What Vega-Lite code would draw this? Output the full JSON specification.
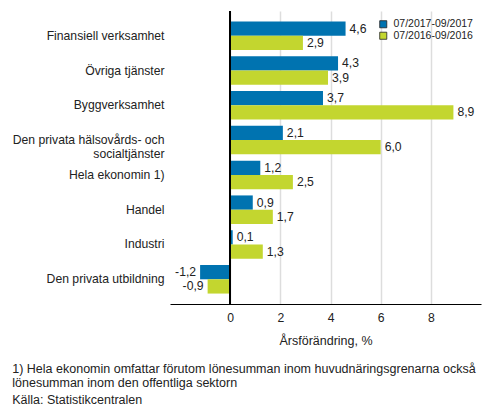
{
  "$schema": "https://vega.github.io/schema/vega-lite/v6.json",
  "width": 311,
  "height": 293,
  "padding": {"left": 12, "top": 10, "right": 5, "bottom": 5},
  "title": {
    "text": ["1) Hela ekonomin omfattar förutom lönesumman inom huvudnäringsgrenarna också", "lönesumman inom den offentliga sektorn"],
    "subtitle": "Källa: Statistikcentralen",
    "orient": "bottom",
    "anchor": "start",
    "frame": "bounds",
    "fontSize": 12.5,
    "fontWeight": "normal",
    "lineHeight": 14,
    "color": "#222",
    "subtitleFontSize": 12.5,
    "subtitleColor": "#222",
    "subtitlePadding": 5,
    "offset": 16
  },
  "data": {
    "values": [
      {"category": "Finansiell verksamhet", "period": "07/2017-09/2017", "value": 4.6},
      {"category": "Finansiell verksamhet", "period": "07/2016-09/2016", "value": 2.9},
      {"category": "Övriga tjänster", "period": "07/2017-09/2017", "value": 4.3},
      {"category": "Övriga tjänster", "period": "07/2016-09/2016", "value": 3.9},
      {"category": "Byggverksamhet", "period": "07/2017-09/2017", "value": 3.7},
      {"category": "Byggverksamhet", "period": "07/2016-09/2016", "value": 8.9},
      {"category": "Den privata hälsovårds- och socialtjänster", "period": "07/2017-09/2017", "value": 2.1},
      {"category": "Den privata hälsovårds- och socialtjänster", "period": "07/2016-09/2016", "value": 6.0},
      {"category": "Hela ekonomin 1)", "period": "07/2017-09/2017", "value": 1.2},
      {"category": "Hela ekonomin 1)", "period": "07/2016-09/2016", "value": 2.5},
      {"category": "Handel", "period": "07/2017-09/2017", "value": 0.9},
      {"category": "Handel", "period": "07/2016-09/2016", "value": 1.7},
      {"category": "Industri", "period": "07/2017-09/2017", "value": 0.1},
      {"category": "Industri", "period": "07/2016-09/2016", "value": 1.3},
      {"category": "Den privata utbildning", "period": "07/2017-09/2017", "value": -1.2},
      {"category": "Den privata utbildning", "period": "07/2016-09/2016", "value": -0.9}
    ]
  },
  "encoding": {
    "y": {
      "field": "category",
      "type": "nominal",
      "sort": null,
      "title": null,
      "scale": {"paddingInner": 0.18, "paddingOuter": 0.3},
      "axis": {
        "domain": false,
        "ticks": false,
        "labelPadding": 6,
        "labelFontSize": 12.2,
        "labelLineHeight": 14,
        "labelColor": "#222",
        "labelLimit": 300,
        "labelExpr": "datum.value == 'Den privata hälsovårds- och socialtjänster' ? ['Den privata hälsovårds- och', 'socialtjänster'] : datum.value"
      }
    },
    "yOffset": {
      "field": "period",
      "type": "nominal",
      "sort": ["07/2017-09/2017", "07/2016-09/2016"]
    },
    "x": {
      "field": "value",
      "type": "quantitative",
      "title": "Årsförändring, %",
      "scale": {"domain": [-2.4, 10], "nice": false, "zero": false},
      "axis": {
        "values": [0, 2, 4, 6, 8],
        "grid": true,
        "gridColor": "#dddddd",
        "gridWidth": 1.5,
        "ticks": false,
        "domainColor": "#000",
        "labelFontSize": 12.2,
        "labelColor": "#222",
        "labelPadding": 7,
        "titleFontSize": 12.5,
        "titleFontWeight": "normal",
        "titleColor": "#222",
        "titlePadding": 11
      }
    }
  },
  "layer": [
    {
      "mark": {"type": "bar"},
      "encoding": {
        "color": {
          "field": "period",
          "type": "nominal",
          "title": null,
          "scale": {"domain": ["07/2017-09/2017", "07/2016-09/2016"], "range": ["#0073b0", "#c3d62f"]},
          "legend": {
            "orient": "none",
            "legendX": 208,
            "legendY": 8,
            "symbolType": "square",
            "symbolSize": 50,
            "symbolStrokeColor": "#222",
            "symbolStrokeWidth": 0.8,
            "labelFontSize": 10.5,
            "labelColor": "#222",
            "rowPadding": 0.5,
            "labelOffset": 5
          }
        }
      }
    },
    {
      "mark": {"type": "rule", "color": "#000", "strokeWidth": 1},
      "encoding": {"x": {"datum": 0}, "y": null, "yOffset": null}
    },
    {
      "transform": [{"filter": "datum.value >= 0"}],
      "mark": {"type": "text", "align": "left", "dx": 4, "fontSize": 12.2, "color": "#222"},
      "encoding": {"text": {"field": "value", "type": "quantitative", "format": ".1f"}}
    },
    {
      "transform": [{"filter": "datum.value < 0"}],
      "mark": {"type": "text", "align": "right", "dx": -4, "fontSize": 12.2, "color": "#222"},
      "encoding": {"text": {"field": "value", "type": "quantitative", "format": ".1f"}}
    }
  ],
  "config": {
    "font": "Liberation Sans",
    "view": {"stroke": null},
    "locale": {"number": {"decimal": ",", "thousands": " ", "grouping": [3], "currency": ["", ""], "minus": "-"}}
  }
}
